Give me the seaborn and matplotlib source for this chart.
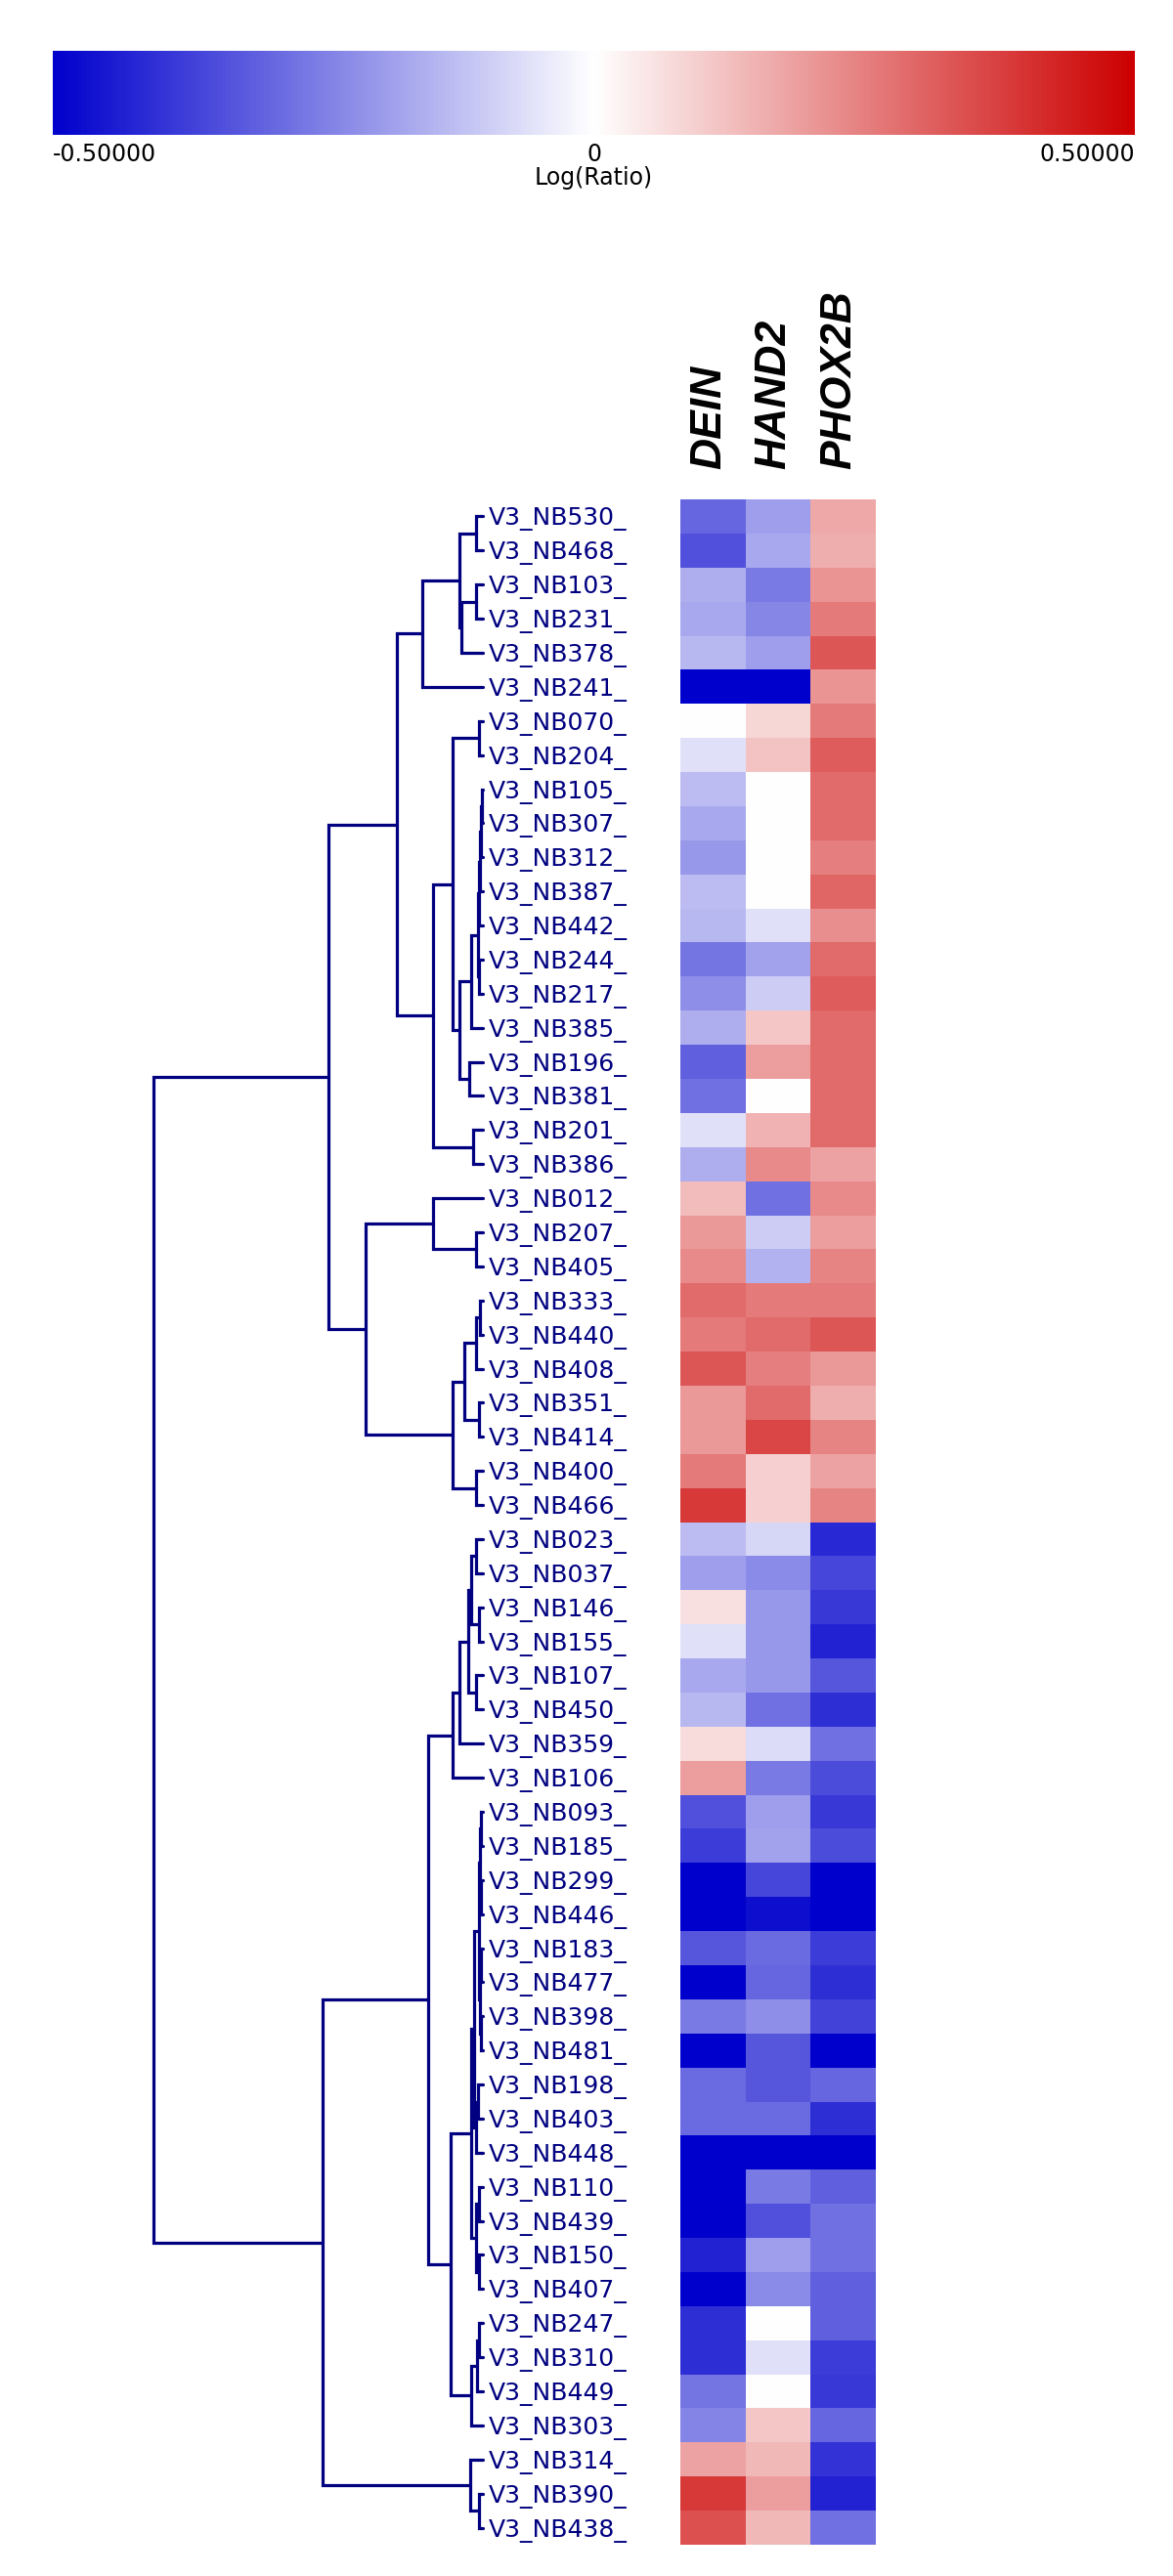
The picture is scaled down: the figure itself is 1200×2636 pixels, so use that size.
import numpy as np
import pandas as pd
import matplotlib
matplotlib.use("Agg")
import matplotlib.pyplot as plt
import matplotlib.transforms as mtransforms
from matplotlib.colors import LinearSegmentedColormap, Normalize
from matplotlib.cm import ScalarMappable
import seaborn as sns

# samples in dendrogram order (top to bottom)
samples = ["V3_NB530_", "V3_NB468_", "V3_NB103_", "V3_NB231_", "V3_NB378_", "V3_NB241_",
           "V3_NB070_", "V3_NB204_", "V3_NB105_", "V3_NB307_", "V3_NB312_", "V3_NB387_",
           "V3_NB442_", "V3_NB244_", "V3_NB217_", "V3_NB385_", "V3_NB196_", "V3_NB381_",
           "V3_NB201_", "V3_NB386_", "V3_NB012_", "V3_NB207_", "V3_NB405_", "V3_NB333_",
           "V3_NB440_", "V3_NB408_", "V3_NB351_", "V3_NB414_", "V3_NB400_", "V3_NB466_",
           "V3_NB023_", "V3_NB037_", "V3_NB146_", "V3_NB155_", "V3_NB107_", "V3_NB450_",
           "V3_NB359_", "V3_NB106_", "V3_NB093_", "V3_NB185_", "V3_NB299_", "V3_NB446_",
           "V3_NB183_", "V3_NB477_", "V3_NB398_", "V3_NB481_", "V3_NB198_", "V3_NB403_",
           "V3_NB448_", "V3_NB110_", "V3_NB439_", "V3_NB150_", "V3_NB407_", "V3_NB247_",
           "V3_NB310_", "V3_NB449_", "V3_NB303_", "V3_NB314_", "V3_NB390_", "V3_NB438_"]
genes = ["DEIN", "HAND2", "PHOX2B"]

# log ratios
dein = [-0.30, -0.34, -0.16, -0.17, -0.14, -0.50, 0.00, -0.06, -0.13, -0.17,
        -0.20, -0.13, -0.14, -0.27, -0.22, -0.16, -0.31, -0.28, -0.06, -0.16,
        0.13, 0.20, 0.23, 0.29, 0.26, 0.33, 0.20, 0.20, 0.26, 0.39,
        -0.13, -0.19, 0.06, -0.06, -0.17, -0.14, 0.07, 0.19, -0.34, -0.38,
        -0.50, -0.50, -0.33, -0.50, -0.26, -0.50, -0.29, -0.29, -0.50, -0.50,
        -0.50, -0.43, -0.50, -0.41, -0.41, -0.27, -0.24, 0.18, 0.39, 0.34]
hand2 = [-0.19, -0.17, -0.26, -0.235, -0.19, -0.50, 0.08, 0.12, 0.00, 0.00,
         0.00, 0.00, -0.06, -0.18, -0.10, 0.11, 0.19, 0.00, 0.15, 0.23,
         -0.28, -0.10, -0.15, 0.26, 0.29, 0.25, 0.29, 0.36, 0.09, 0.09,
         -0.08, -0.23, -0.20, -0.20, -0.20, -0.28, -0.07, -0.26, -0.19, -0.18,
         -0.36, -0.47, -0.29, -0.30, -0.22, -0.33, -0.33, -0.29, -0.50, -0.26,
         -0.34, -0.19, -0.23, 0.00, -0.06, 0.00, 0.11, 0.14, 0.19, 0.14]
phox2b = [0.17, 0.16, 0.21, 0.26, 0.33, 0.21, 0.26, 0.32, 0.29, 0.29,
          0.25, 0.30, 0.22, 0.29, 0.32, 0.29, 0.29, 0.29, 0.29, 0.18,
          0.23, 0.19, 0.24, 0.26, 0.33, 0.20, 0.16, 0.24, 0.18, 0.24,
          -0.42, -0.36, -0.39, -0.43, -0.33, -0.41, -0.28, -0.35, -0.39, -0.35,
          -0.50, -0.50, -0.38, -0.41, -0.37, -0.50, -0.30, -0.41, -0.50, -0.31,
          -0.28, -0.28, -0.31, -0.31, -0.38, -0.39, -0.30, -0.40, -0.43, -0.28]

# merges: (a, b, distance); leaves are 0..59, merge k becomes cluster 60+k
linkage = [
    (0, 1, 0.021), (2, 3, 0.021), (61, 4, 0.065), (60, 62, 0.071), (63, 5, 0.184),
    (6, 7, 0.012), (8, 9, 0.004), (66, 10, 0.006), (67, 11, 0.008), (68, 12, 0.013),
    (13, 14, 0.012), (69, 70, 0.015), (71, 15, 0.036), (16, 17, 0.042), (72, 73, 0.071),
    (65, 74, 0.092), (18, 19, 0.030), (75, 76, 0.151), (64, 77, 0.261), (21, 22, 0.021),
    (20, 79, 0.151), (23, 24, 0.008), (81, 25, 0.021), (26, 27, 0.012), (82, 83, 0.056),
    (28, 29, 0.021), (84, 85, 0.092), (80, 86, 0.356), (78, 87, 0.469),
    (30, 31, 0.021), (32, 33, 0.012), (89, 90, 0.036), (34, 35, 0.021), (91, 92, 0.045),
    (93, 36, 0.071), (94, 37, 0.092),
    (38, 39, 0.006), (40, 41, 0.006), (96, 97, 0.009), (42, 43, 0.006), (44, 45, 0.006),
    (99, 100, 0.009), (98, 101, 0.012), (46, 47, 0.015), (103, 48, 0.021), (102, 104, 0.027),
    (49, 50, 0.012), (51, 52, 0.012), (106, 107, 0.021), (105, 108, 0.036),
    (53, 54, 0.012), (110, 55, 0.018), (111, 56, 0.036), (109, 112, 0.098), (95, 113, 0.166),
    (58, 59, 0.012), (57, 115, 0.039), (114, 116, 0.487),
    (88, 117, 1.0),
]

sns.set_style("white")
plt.rcParams['font.family'] = ['DejaVu Sans']
plt.rcParams['text.color'] = 'black'
plt.rcParams['xtick.color'] = 'black'
plt.rcParams['ytick.color'] = 'black'
plt.rcParams['axes.labelcolor'] = 'black'

navy = "#000080"
cmap = LinearSegmentedColormap.from_list("tv", ["#0000cc", "#ffffff", "#cc0000"])
df = pd.DataFrame({"DEIN": dein, "HAND2": hand2, "PHOX2B": phox2b}, index=samples)

W, H = 1200, 2636
fig = plt.figure(figsize=(W / 100, H / 100), dpi=100)


def box(x0, y0, x1, y1):
    return [x0 / W, 1 - y1 / H, (x1 - x0) / W, (y1 - y0) / H]


# heatmap
ax_hm = fig.add_axes(box(696, 511, 896, 2604))
sns.heatmap(df, ax=ax_hm, cmap=cmap, vmin=-0.5, vmax=0.5, cbar=False,
            xticklabels=True, yticklabels=False)
ax_hm.xaxis.tick_top()
ax_hm.set_xticklabels(genes, rotation=90, fontsize=32, fontweight='bold',
                      fontstyle='italic', family='Liberation Sans', color='black')
ax_hm.tick_params(axis='x', length=0, pad=22)
shift = mtransforms.ScaledTranslation(-4 / 100, 0, fig.dpi_scale_trans)
for lbl in ax_hm.get_xticklabels():
    lbl.set_transform(lbl.get_transform() + shift)
ax_hm.set_xlabel("")
ax_hm.set_ylabel("")

# dendrogram
ax_dg = fig.add_axes(box(157, 511, 494, 2604))
n = len(samples)
pos = {i: (i + 0.5, 0.0) for i in range(n)}
for k, (a, b, h) in enumerate(linkage):
    ya, ha = pos[a]
    yb, hb = pos[b]
    ax_dg.plot([ha, h, h, hb], [ya, ya, yb, yb], color=navy, lw=2.3,
               solid_joinstyle='miter', clip_on=False)
    pos[n + k] = ((ya + yb) / 2, h)
ax_dg.set_xlim(1.0, 0.0)
ax_dg.set_ylim(n, 0)
ax_dg.set_xticks([])
ax_dg.set_yticks(np.arange(n) + 0.5)
ax_dg.set_yticklabels(samples)
ax_dg.yaxis.tick_right()
ax_dg.tick_params(axis='y', length=0, pad=4, labelsize=18, labelcolor=navy)
for s in ax_dg.spines.values():
    s.set_visible(False)

# colour scale
cax = fig.add_axes(box(54, 52, 1161, 138))
sm = ScalarMappable(norm=Normalize(-0.5, 0.5), cmap=cmap)
cb = fig.colorbar(sm, cax=cax, orientation='horizontal')
cb.outline.set_visible(False)
cb.set_ticks([-0.5, 0, 0.5])
cb.set_ticklabels(["-0.50000", "0", "0.50000"])
cax.tick_params(length=0, pad=6, labelsize=17, labelcolor='black')
tl = cax.get_xticklabels()
tl[0].set_ha('left')
tl[-1].set_ha('right')
cax.set_xlabel("Log(Ratio)", fontsize=17, labelpad=0, color='black')

fig.savefig("out.png", dpi=100)
